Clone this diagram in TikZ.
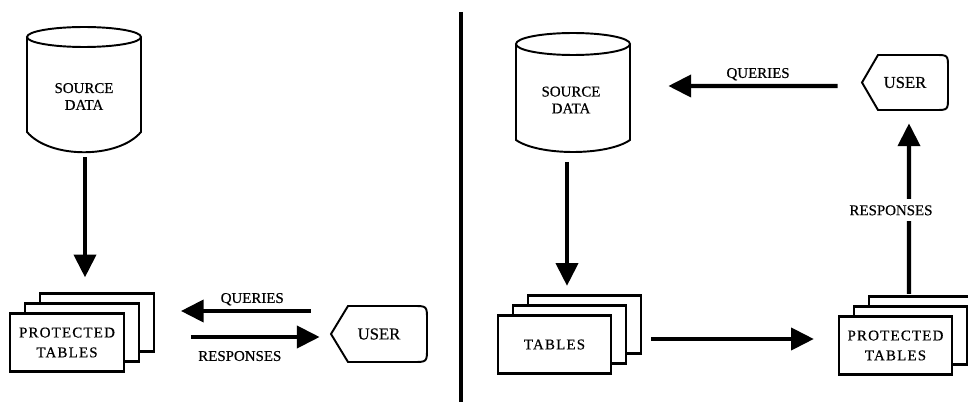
\documentclass[tikz,border=0pt]{standalone}
\usepackage{fontspec}
\setmainfont{Liberation Serif}[FakeBold=0.5]
\usetikzlibrary{arrows.meta,shadows}

\newcommand\lblfont{\fontsize{8.5}{9.6}\selectfont\addfontfeature{FakeBold=0.5}}
\newcommand\tblfont{\fontsize{8.5}{11.3}\selectfont\addfontfeature{LetterSpace=8,FakeBold=0.5}}
\newcommand\userfont{\fontsize{9.5}{11}\selectfont\addfontfeature{FakeBold=0.5}}

\begin{document}
\begin{tikzpicture}[x=0.02cm,y=-0.02cm,
  flow/.style={line width=2.4pt,-{Triangle[length=13pt,width=12.5pt]}},
  outline/.style={line width=1.1pt},
  stack/.style={draw,fill=white,line width=1.3pt,minimum width=2.27cm,minimum height=1.16cm,
    inner sep=0pt,align=center,font=\tblfont,
    copy shadow={shadow xshift=0.6cm,shadow yshift=0.4cm,draw=black,line width=1.2pt},
    copy shadow={shadow xshift=0.3cm,shadow yshift=0.2cm,draw=black,line width=1.2pt}},
  dbnode/.style={minimum width=2.28cm,minimum height=2.6cm,inner sep=0pt},
  usernode/.style={minimum width=1.92cm,minimum height=1.12cm,inner sep=0pt,font=\userfont},
  tag/.style={font=\lblfont,inner sep=0pt,anchor=base},
  gaptag/.style={font=\lblfont,fill=white,inner xsep=1pt,inner ysep=3.5pt}]
\useasboundingbox (0,0) rectangle (968,402);
\clip (0,0) rectangle (968,402);
\fill[white] (0,0) rectangle (968,402);

% left: user asks the protected tables
\draw[outline] (27,37) -- (27,132) .. controls (50,159) and (118,159) .. (141,132) -- (141,37);
\draw[outline] (84,37) ellipse [x radius=1.14cm,y radius=0.2cm];
\node[dbnode] (srcL) at (85,92) {};
\node[font=\lblfont,align=center] (srcLlbl) at (84,96.5) {SOURCE\\DATA};
\node[stack] (protL) at (67,342.5) {PROTECTED\\TABLES};
\draw[outline] (331,334) -- (348,306) -- (413,306) .. controls (427,306) .. (427,320)
  -- (427,348) .. controls (427,362) .. (413,362) -- (348,362) -- cycle;
\node[usernode] (userL) at (379,334) {USER};

\draw[flow,shorten >=0.7cm] (srcL.south) -- (srcL.south |- protL.north);
\draw[flow] ([shift={(-20,-23)}]userL.west) -- node[tag,pos=.45,yshift=4.6pt] {QUERIES} ([shift={(56,-31.5)}]protL.east);
\draw[flow] ([shift={(66,-5.5)}]protL.east) -- node[tag,pos=.38,yshift=-13.6pt] {RESPONSES} ([shift={(-11,3)}]userL.west);

\draw[line width=2.2pt] (461,12) -- (461,402);

% right: user asks the source data
\draw[outline] (516,44) -- (516,140) .. controls (539,156) and (607,156) .. (630,140) -- (630,44);
\draw[outline] (573,44) ellipse [x radius=1.14cm,y radius=0.22cm];
\node[dbnode] (srcR) at (567,96.5) {};
\node[font=\lblfont,align=center] (srcRlbl) at (571,100) {SOURCE\\DATA};
\node[stack] (tabR) at (554.5,344.5) {TABLES};
\node[stack] (protR) at (895.5,345.5) {PROTECTED\\TABLES};
\draw[outline] (862,82.5) -- (878,55) -- (935,55) .. controls (948,55) .. (948,68)
  -- (948,97) .. controls (948,110) .. (935,110) -- (878,110) -- cycle;
\node[usernode] (userR) at (905,82.5) {USER};

\draw[flow,shorten >=0.57cm] (srcR.south) -- (srcR.south |- tabR.north);
\draw[flow] ([shift={(38.75,-5.5)}]tabR.east) -- ([shift={(-23.75,-6.5)}]protR.west);
\draw[flow] ([shift={(13.5,-21.5)}]protR.north) -- node[gaptag,pos=.49,xshift=-0.36cm] {RESPONSES} ([shift={(4,12.5)}]userR.south);
\draw[flow] ([shift={(-19,3.5)}]userR.west) -- node[tag,pos=.47,yshift=4.6pt] {QUERIES} ([shift={(44,-10.5)}]srcR.east);
\end{tikzpicture}
\end{document}
